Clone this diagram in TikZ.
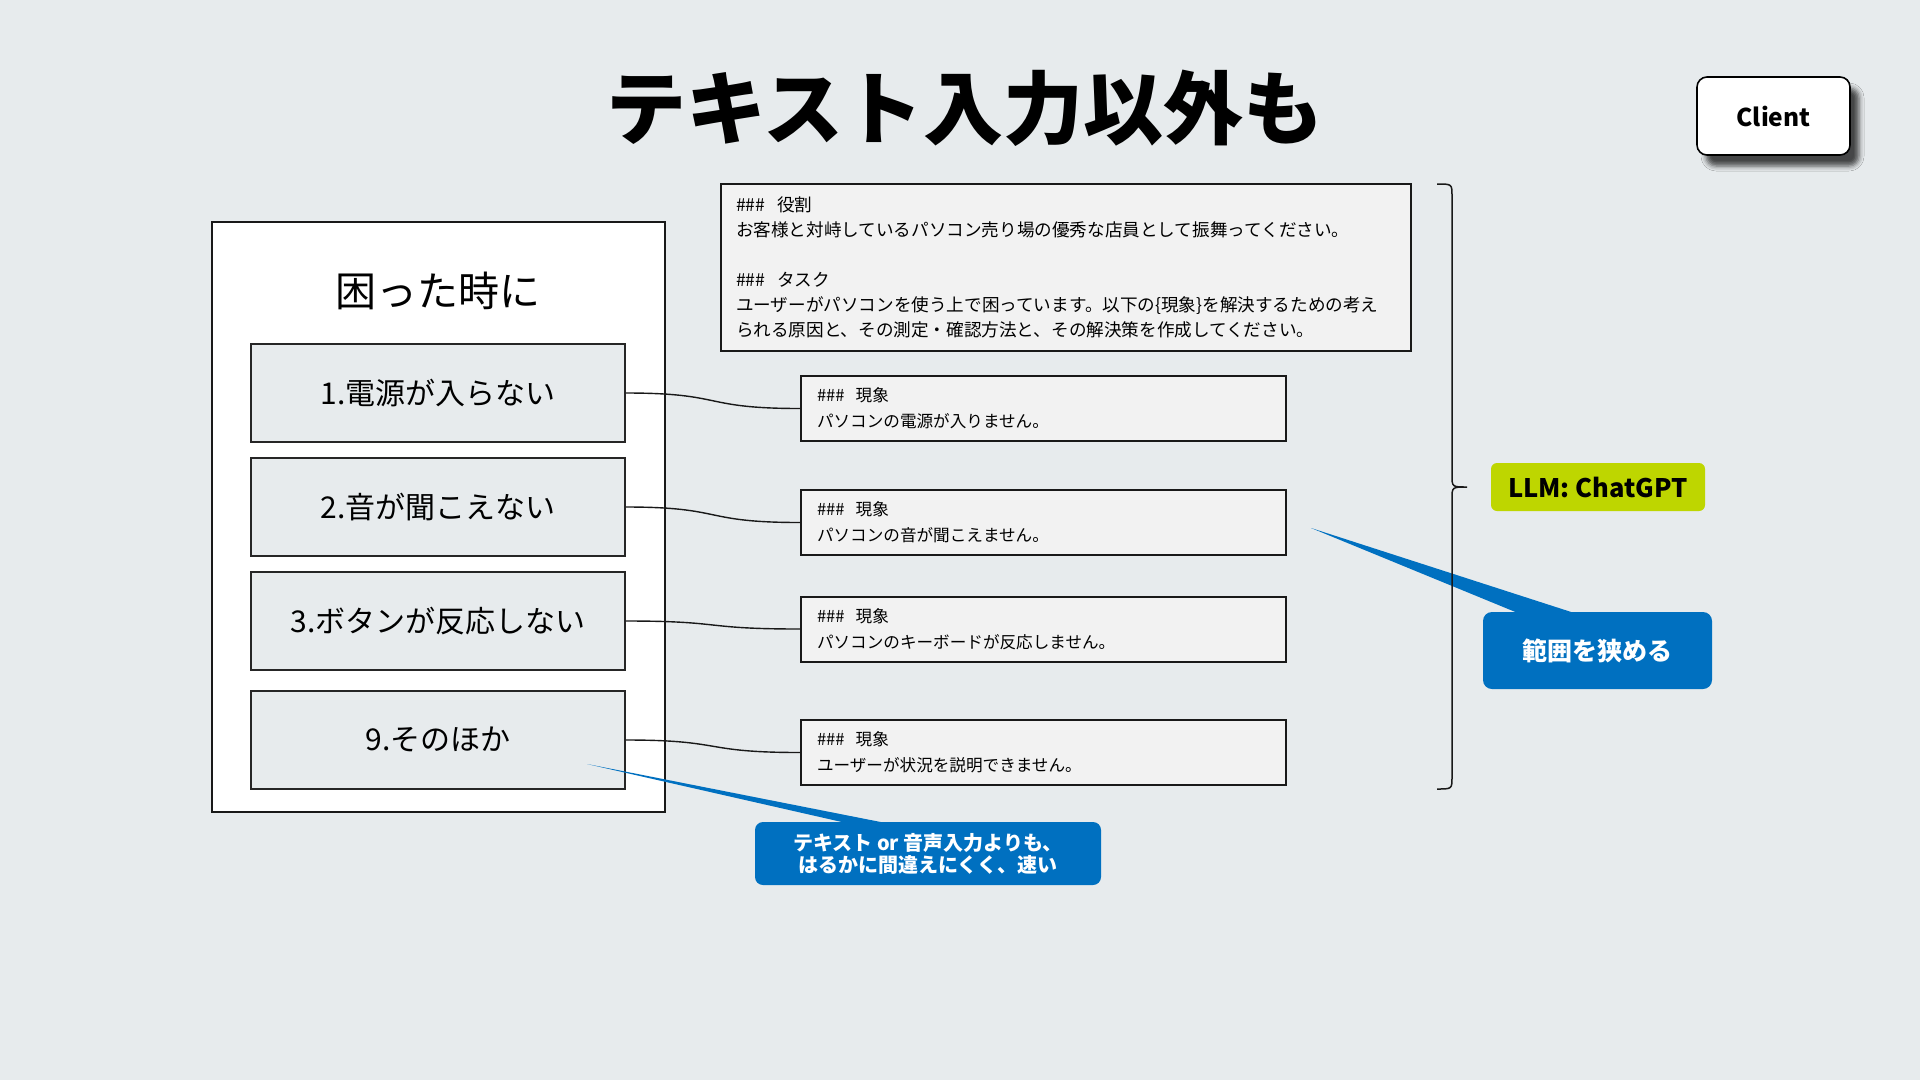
\documentclass[tikz,border=0pt]{standalone}
\usepackage{fontspec}
\newfontfamily\jp{Noto Sans CJK JP}
\usetikzlibrary{shadows.blur,calc}
\definecolor{bg}{RGB}{231,235,237}
\definecolor{panelgray}{RGB}{242,242,242}
\definecolor{llmgreen}{RGB}{190,214,0}
\definecolor{calloutblue}{RGB}{0,112,192}
\tikzset{
  itembox/.style={draw=black!85, fill=bg, line width=1.5pt, minimum width=374pt, minimum height=98pt, inner sep=0pt, font=\jp\fontsize{30}{34}\selectfont},
  phbox/.style={draw=black!90, fill=panelgray, line width=2pt, minimum height=65pt, inner xsep=16pt, text width=453pt, align=left, font=\jp\fontsize{16.6}{26}\selectfont},
  conn/.style={draw=black!90, line width=1.4pt},
  callout/.style={fill=calloutblue, text=white, rounded corners=9pt, inner sep=0pt, align=center, font=\jp\bfseries\fontsize{20}{22}\selectfont},
}
\begin{document}
\begin{tikzpicture}[x=1pt,y=-1pt]
\fill[bg] (0,0) rectangle (1920,1080);
\useasboundingbox (0,0) rectangle (1920,1080);

% title
\node[font=\jp\bfseries\fontsize{80}{90}\selectfont] (title) at (965,108) {テキスト入力以外も};

% client
\node[draw=black, line width=1.6pt, fill=white, rounded corners=10pt, minimum width=153pt, minimum height=78pt,
      blur shadow={shadow xshift=9pt, shadow yshift=-11pt, shadow blur radius=5pt, shadow opacity=70},
      font=\jp\bfseries\fontsize{24.5}{28}\selectfont] (client) at (1773.5,116) {Client};

% left panel
\node[draw=black!90, fill=white, line width=1.5pt, minimum width=453pt, minimum height=590pt] (panel) at (438.5,517) {};
\node[font=\jp\fontsize{41}{46}\selectfont] (ptitle) at (438,291) {困った時に};

\node[itembox] (i1) at (438,393) {1.電源が入らない};
\node[itembox] (i2) at (438,507) {2.音が聞こえない};
\node[itembox] (i3) at (438,621) {3.ボタンが反応しない};
\node[itembox] (i4) at (438,740) {\raisebox{3pt}{9.そのほか}};

% prompt box
\node[draw=black!90, fill=panelgray, line width=2pt, minimum height=167pt, inner xsep=15pt, text width=660pt, align=left,
      font=\jp\fontsize{17.6}{25}\selectfont] (prompt) at (1066,267.5)
  {\#\#\#\ \ 役割\\
   お客様と対峙しているパソコン売り場の優秀な店員として振舞ってください。\\[25pt]
   \#\#\#\ \ タスク\\
   ユーザーがパソコンを使う上で困っています。以下の\{現象\}を解決するための考え\\
   られる原因と、その測定・確認方法と、その解決策を作成してください。};

% phenomenon boxes
\node[phbox] (p1) at (1043.5,408.5) {\#\#\#\ \ 現象\\パソコンの電源が入りません。};
\node[phbox] (p2) at (1043.5,522.5) {\#\#\#\ \ 現象\\パソコンの音が聞こえません。};
\node[phbox] (p3) at (1043.5,629) {\#\#\#\ \ 現象\\パソコンのキーボードが反応しません。};
\node[phbox] (p4) at (1043.5,752.5) {\#\#\#\ \ 現象\\ユーザーが状況を説明できません。};

% connectors
\draw[conn] (i1.east) .. controls +(100,0) and +(-100,0) .. (p1.west);
\draw[conn] (i2.east) .. controls +(100,0) and +(-100,0) .. (p2.west);
\draw[conn] (i3.east) .. controls +(100,0) and +(-100,0) .. (p3.west);
\draw[conn] (i4.east) .. controls +(100,0) and +(-100,0) .. (p4.west);

% LLM label
\node[fill=llmgreen, rounded corners=6pt, minimum width=214pt, minimum height=48pt, inner sep=0pt,
      font=\jp\bfseries\fontsize{25.5}{28}\selectfont] (llm) at (1598,487) {LLM: ChatGPT};

% range callout
\node[callout, minimum width=229pt, minimum height=77pt, font=\jp\bfseries\fontsize{25}{28}\selectfont] (range) at (1597.5,650.5) {範囲を狭める};
\coordinate (tipR) at (1311,528);
\fill[calloutblue] (tipR) -- ($(range.north west)+(94,2)$) -- ($(range.north west)+(37,2)$) -- cycle;

% bottom callout
\node[callout, rounded corners=8pt, minimum width=346pt, minimum height=63pt] (speed) at (928,853.5)
  {テキスト or 音声入力よりも、\\はるかに間違えにくく、速い};
\coordinate (tipB) at (587,764);
\fill[calloutblue] (tipB) -- ($(speed.north west)+(135,2)$) -- ($(speed.north west)+(95,2)$) -- cycle;

% brace
\coordinate (bt) at (1437,184);
\coordinate (bb) at (1437,789);
\coordinate (btip) at (1467,487);
\draw[line width=1.5pt, black!90]
  (bt) .. controls (1452,184) .. (1452,196) -- (1452,475)
  .. controls (1452,487) .. (btip)
  .. controls (1452,487) .. (1452,499) -- (1452,777)
  .. controls (1452,789) .. (bb);
\end{tikzpicture}
\end{document}
